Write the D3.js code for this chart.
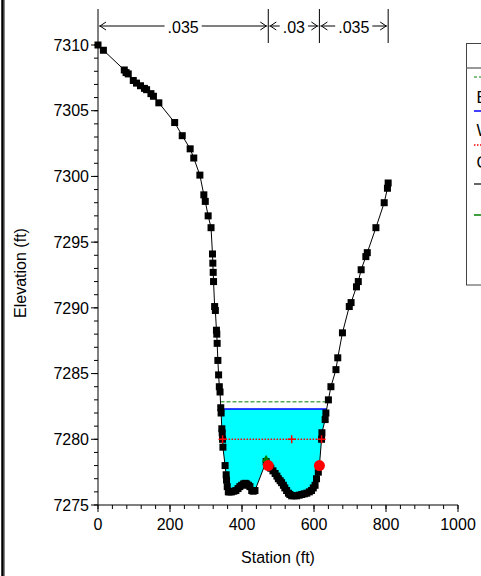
<!DOCTYPE html>
<html><head><meta charset="utf-8">
<script src="https://cdn.jsdelivr.net/npm/d3@7"></script>
<style>body{margin:0;background:#fff}svg{display:block}text{font-family:"Liberation Sans",Arial,sans-serif}</style>
</head><body><svg id="c" width="481" height="576"></svg>
<script>
const stations=[0,15,73,78,84,98,107,118,129,135,147,154,169,213,234,256,266,283,294,298,306,314,318,319,320,321,324,326,329,330,331,333,335,337,339,341,342,344,345,346,347,353,356,357,359,362,366,371,377,383,389,394,399,404,409,413,418,422,427,431,436,467,473,480,486,492,497,501,506,510,515,519,524,529,533,538,545,552,559,566,573,580,587,593,598,603,607,612,615,621,622,631,633,640,647,661,666,679,698,703,718,723,731,744,748,772,795,804,806];
const elevations=[7310,7309.6,7308.1,7307.9,7307.8,7307.3,7307.1,7306.9,7306.7,7306.6,7306.3,7306.1,7305.6,7304.1,7303.1,7302.1,7301.4,7300.1,7298.6,7298.1,7297.0,7296.1,7294.1,7293.4,7292.7,7292.0,7290.1,7289.8,7288.3,7288.0,7287.3,7286.0,7284.9,7284.0,7283.6,7282.4,7282.0,7280.8,7280.5,7280.0,7279.4,7278.0,7277.3,7276.9,7276.4,7276.0,7276.0,7276.0,7276.05,7276.1,7276.25,7276.4,7276.5,7276.6,7276.65,7276.6,7276.5,7276.4,7276.1,7276.05,7276.1,7278.3,7278.0,7277.8,7277.6,7277.4,7277.2,7277.0,7276.85,7276.7,7276.5,7276.3,7276.1,7275.9,7275.8,7275.7,7275.7,7275.7,7275.75,7275.8,7275.85,7275.9,7276.0,7276.1,7276.3,7276.5,7277.0,7277.5,7278.0,7280.0,7280.5,7281.5,7282.0,7283.0,7284.0,7285.3,7286.2,7288.1,7290.1,7290.4,7291.6,7292.0,7292.9,7293.9,7294.2,7296.1,7298.0,7299.1,7299.5];
const wsElev=7282.3, egElev=7282.85, critElev=7280.0, critMidStation=538;
const bankStations=[473,615];
const leveeStation=467, leveeElev=7278.45;
const nStations=[0,473,615,806];
const nValues=[".035",".03",".035"];
const xTicks=[0,200,400,600,800,1000];
const yTicks=[7275,7280,7285,7290,7295,7300,7305,7310];
const legendLabels=["EG  PF 1","WS  PF 1","Crit  PF 1","Ground","Levee"];

const svg=d3.select("#c");
svg.append("rect").attr("width",481).attr("height",576).attr("fill","#fff");
const x=d3.scaleLinear().domain([0,1000]).range([98,458]);
const y=d3.scaleLinear().domain([7275,7310]).range([505,45]);
const ground=stations.map((s,i)=>[s,elevations[i]]);

function interpAt(s){for(let i=0;i<ground.length-1;i++){const a=ground[i],b=ground[i+1];if(s>=a[0]&&s<=b[0]){return a[1]+(b[1]-a[1])*(s-a[0])/(b[0]-a[0]);}}return null;}
function crossings(e){let l=null,r=null,li=0,ri=0;
 for(let i=0;i<ground.length-1;i++){const a=ground[i],b=ground[i+1];
  if(l===null&&a[1]>=e&&b[1]<e){l=a[0]+(b[0]-a[0])*(a[1]-e)/(a[1]-b[1]);li=i+1;}
  if(a[1]<e&&b[1]>=e){r=a[0]+(b[0]-a[0])*(e-a[1])/(b[1]-a[1]);ri=i;}}
 return {l,r,li,ri};}

// frame line at left
svg.append("line").attr("x1",2.5).attr("x2",2.5).attr("y1",0).attr("y2",576).attr("stroke","#000").attr("stroke-width",2.5);
svg.append("line").attr("x1",4.5).attr("x2",4.5).attr("y1",0).attr("y2",576).attr("stroke","#888").attr("stroke-width",1);

// water fill
const w=crossings(wsElev);
const poly=[[w.l,wsElev]].concat(ground.slice(w.li,w.ri+1)).concat([[w.r,wsElev]]);
svg.append("path").attr("d",d3.line().x(d=>x(d[0])).y(d=>y(d[1]))(poly)+"Z").attr("fill","#00ffff");
svg.append("line").attr("x1",x(w.l)).attr("x2",x(w.r)).attr("y1",y(wsElev)).attr("y2",y(wsElev)).attr("stroke","#0000ff").attr("stroke-width",1.5);
const eg=crossings(egElev);
svg.append("line").attr("x1",x(eg.l)).attr("x2",x(eg.r)).attr("y1",y(egElev)).attr("y2",y(egElev)).attr("stroke","#008000").attr("stroke-width",1).attr("stroke-dasharray","4,2");

// axes
const xAxis=svg.append("g").attr("transform","translate(0,505)");
xAxis.append("line").attr("x1",x(0)).attr("x2",x(1000)).attr("stroke","#000");
xAxis.selectAll(".mn").data(d3.range(0,1001,40)).join("line").attr("x1",d=>x(d)).attr("x2",d=>x(d)).attr("y1",0).attr("y2",4).attr("stroke","#000");
xAxis.selectAll(".mj").data(xTicks).join("line").attr("x1",d=>x(d)).attr("x2",d=>x(d)).attr("y1",0).attr("y2",7).attr("stroke","#000");
xAxis.selectAll("text").data(xTicks).join("text").attr("x",d=>x(d)).attr("y",25).attr("text-anchor","middle").attr("font-size",16).text(d=>d);
const yAxis=svg.append("g").attr("transform","translate(98,0)");
yAxis.append("line").attr("y1",y(7275)).attr("y2",y(7310)).attr("stroke","#000");
yAxis.selectAll(".mn").data(d3.range(7275,7311,1)).join("line").attr("y1",d=>y(d)).attr("y2",d=>y(d)).attr("x1",0).attr("x2",-4).attr("stroke","#000");
yAxis.selectAll(".mj").data(yTicks).join("line").attr("y1",d=>y(d)).attr("y2",d=>y(d)).attr("x1",0).attr("x2",-7).attr("stroke","#000");
yAxis.selectAll("text").data(yTicks).join("text").attr("x",-9).attr("y",d=>y(d)+5.7).attr("text-anchor","end").attr("font-size",16).text(d=>d);
svg.append("text").attr("x",278).attr("y",563).attr("text-anchor","middle").attr("font-size",16).text("Station (ft)");
svg.append("text").attr("transform","translate(26,273) rotate(-90)").attr("text-anchor","middle").attr("font-size",16).text("Elevation (ft)");

// ground
svg.append("path").attr("d",d3.line().x(d=>x(d[0])).y(d=>y(d[1]))(ground)).attr("fill","none").attr("stroke","#000").attr("stroke-width",1);
svg.selectAll(".pt").data(ground).join("rect").attr("x",d=>x(d[0])-3.5).attr("y",d=>y(d[1])-3.5).attr("width",7).attr("height",7).attr("fill","#000");

// levee marker
svg.append("path").attr("d",d3.symbol(d3.symbolTriangle,30)()).attr("transform",`translate(${x(leveeStation)},${y(leveeElev)})`).attr("fill","#008000");
// bank stations
svg.selectAll(".bk").data(bankStations).join("circle").attr("cx",d=>x(d)).attr("cy",d=>y(interpAt(d))).attr("r",5.5).attr("fill","#ff0000");

// crit
const cr=crossings(critElev);
svg.append("line").attr("x1",x(cr.l)).attr("x2",x(cr.r)).attr("y1",y(critElev)).attr("y2",y(critElev)).attr("stroke","#ff0000").attr("stroke-width",1.5).attr("stroke-dasharray","1.5,1.5");
[cr.l,critMidStation,cr.r].forEach(s=>{const cx=x(s),cy=y(critElev);
 svg.append("path").attr("d",`M${cx-4},${cy}H${cx+4}M${cx},${cy-4}V${cy+4}`).attr("stroke","#ff0000").attr("stroke-width",1.5);});

// n values
const nY=26;
nStations.forEach(s=>svg.append("line").attr("x1",x(s)).attr("x2",x(s)).attr("y1",9).attr("y2",43).attr("stroke","#000").attr("stroke-width",1));
nValues.forEach((v,i)=>{const x1=x(nStations[i]),x2=x(nStations[i+1]),mid=(x1+x2)/2;
 const t=svg.append("text").attr("x",mid).attr("y",32.5).attr("text-anchor","middle").attr("font-size",16).text(v);
 const tw=t.node().getComputedTextLength();
 svg.append("line").attr("x1",x1+1).attr("x2",mid-tw/2-3).attr("y1",nY).attr("y2",nY).attr("stroke","#000");
 svg.append("line").attr("x1",mid+tw/2+3).attr("x2",x2-1).attr("y1",nY).attr("y2",nY).attr("stroke","#000");
 svg.append("path").attr("d",`M${x1+8},${nY-4}L${x1+2},${nY}L${x1+8},${nY+4}`).attr("fill","none").attr("stroke","#000");
 svg.append("path").attr("d",`M${x2-8},${nY-4}L${x2-2},${nY}L${x2-8},${nY+4}`).attr("fill","none").attr("stroke","#000");
});

// legend (clipped at right edge, as in the original)
const lg=svg.append("g");
lg.append("rect").attr("x",466.5).attr("y",43.5).attr("width",40).attr("height",241.5).attr("fill","#fff").attr("stroke","#444");
lg.append("line").attr("x1",466.5).attr("x2",490).attr("y1",68).attr("y2",68).attr("stroke","#777").attr("stroke-width",1.5);
const legY=[77,111,145,184,215];
const legStyles=[{c:"#008000",d:"3,2",w:1},{c:"#0000ff",d:null,w:1.5},{c:"#ff0000",d:"1.5,1.5",w:1.5},{c:"#333",d:null,w:1.5},{c:"#008000",d:null,w:1.5}];
legY.forEach((yy,i)=>{lg.append("line").attr("x1",474).attr("x2",490).attr("y1",yy).attr("y2",yy).attr("stroke",legStyles[i].c).attr("stroke-width",legStyles[i].w).attr("stroke-dasharray",legStyles[i].d);});
const legTextY=[103,136,168];
legTextY.forEach((yy,i)=>lg.append("text").attr("x",476.5).attr("y",yy).attr("font-size",16).text(legendLabels[i]));
</script></body></html>
